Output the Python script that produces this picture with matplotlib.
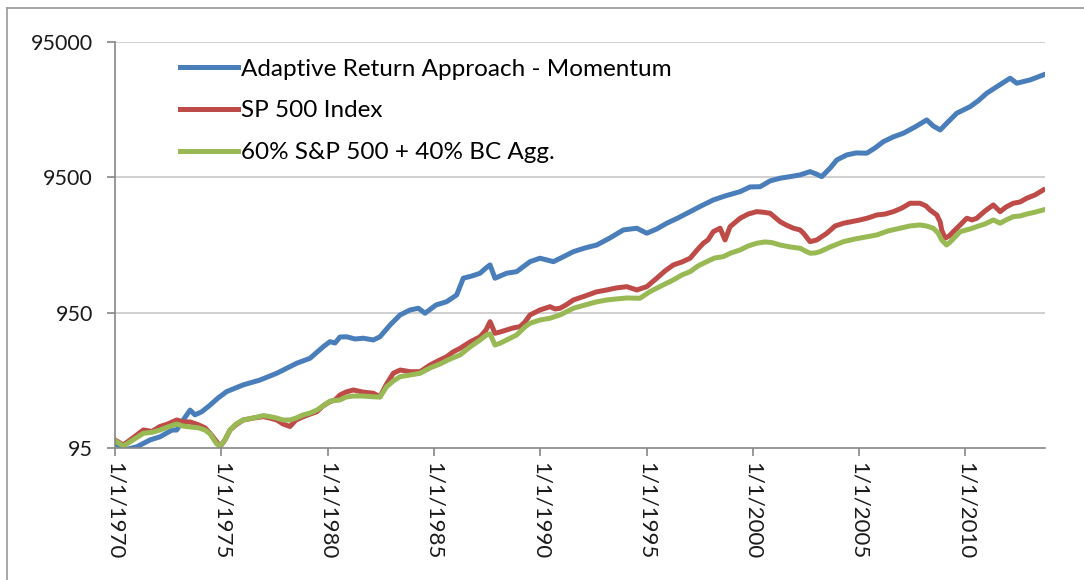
import matplotlib
matplotlib.use("Agg")
import matplotlib.pyplot as plt
from matplotlib.lines import Line2D

plt.rcParams['font.family'] = ['Lato', 'DejaVu Sans']

# ------------------------------
# data (decimal year, value)
# ------------------------------
ara_years = [1970.0, 1970.56, 1971.03, 1971.65, 1972.12, 1972.68, 1972.90, 1973.21, 1973.53, 1973.76,
             1974.08, 1974.47, 1974.84, 1975.25, 1976.03, 1976.82, 1977.61, 1978.55, 1979.17, 1979.80,
             1980.11, 1980.35, 1980.58, 1980.90, 1981.29, 1981.68, 1982.15, 1982.46, 1982.94, 1983.41,
             1983.88, 1984.27, 1984.58, 1985.10, 1985.60, 1986.07, 1986.38, 1986.79, 1987.17, 1987.45,
             1987.64, 1987.87, 1988.42, 1988.89, 1989.52, 1989.99, 1990.62, 1991.07, 1991.56, 1992.11,
             1992.66, 1993.28, 1993.91, 1994.54, 1995.01, 1995.48, 1995.95, 1996.48, 1997.05, 1997.56,
             1998.14, 1998.69, 1999.40, 1999.87, 2000.34, 2000.81, 2001.28, 2001.75, 2002.22, 2002.69,
             2002.97, 2003.24, 2003.64, 2003.95, 2004.42, 2004.86, 2005.36, 2005.75, 2006.14, 2006.60,
             2007.08, 2007.63, 2008.18, 2008.48, 2008.81, 2009.18, 2009.59, 2010.22, 2010.59, 2011.00,
             2011.53, 2012.10, 2012.41, 2013.04, 2013.66]
ara_vals = [102, 93, 97, 109, 115, 129, 129, 153, 181, 167,
            176, 197, 222, 248, 278, 302, 339, 402, 437, 533,
            580, 567, 628, 630, 607, 615, 597, 630, 771, 914,
            995, 1024, 941, 1083, 1145, 1284, 1707, 1774, 1858, 2033,
            2140, 1707, 1858, 1909, 2263, 2399, 2263, 2452, 2683, 2858,
            3006, 3387, 3882, 3996, 3670, 3948, 4350, 4760, 5298, 5832,
            6466, 6918, 7449, 8070, 8096, 8938, 9357, 9615, 9899, 10468,
            10070, 9615, 11148, 12775, 13912, 14389, 14330, 15667, 17441, 18895,
            20122, 22398, 25232, 22773, 21283, 24388, 28278, 31636, 34867, 39747,
            44983, 51305, 47121, 49840, 54276]

sp_years = [1970.0, 1970.39, 1970.85, 1971.33, 1971.74, 1972.12, 1972.49, 1972.90, 1973.20, 1973.53,
            1973.92, 1974.23, 1974.47, 1974.78, 1974.94, 1975.17, 1975.41, 1975.69, 1976.03, 1976.49,
            1976.98, 1977.29, 1977.61, 1977.90, 1978.23, 1978.51, 1978.86, 1979.17, 1979.49, 1979.78,
            1980.11, 1980.35, 1980.58, 1980.86, 1981.21, 1981.66, 1982.15, 1982.46, 1982.75, 1983.09,
            1983.41, 1983.88, 1984.35, 1984.82, 1985.19, 1985.60, 1985.90, 1986.23, 1986.70, 1987.17,
            1987.45, 1987.64, 1987.87, 1988.11, 1988.42, 1988.72, 1989.05, 1989.28, 1989.52, 1989.99,
            1990.46, 1990.70, 1990.93, 1991.21, 1991.56, 1992.11, 1992.63, 1993.13, 1993.57, 1994.07,
            1994.54, 1995.01, 1995.48, 1995.87, 1996.26, 1996.67, 1997.05, 1997.38, 1997.67, 1997.89,
            1998.14, 1998.46, 1998.69, 1998.93, 1999.40, 1999.78, 2000.18, 2000.48, 2000.81, 2001.28,
            2001.56, 2001.91, 2002.22, 2002.38, 2002.69, 2003.01, 2003.48, 2003.87, 2004.26, 2004.57,
            2005.04, 2005.42, 2005.83, 2006.22, 2006.61, 2007.02, 2007.39, 2007.86, 2008.15, 2008.33,
            2008.65, 2008.81, 2008.88, 2009.04, 2009.23, 2009.43, 2009.75, 2010.06, 2010.31, 2010.53,
            2010.92, 2011.31, 2011.63, 2011.91, 2012.25, 2012.57, 2012.88, 2013.27, 2013.66]
sp_vals = [109, 100, 113, 129, 126, 137, 143, 153, 148, 148,
           141, 134, 122, 106, 97, 109, 129, 141, 153, 158,
           162, 158, 153, 143, 137, 153, 162, 169, 176, 194,
           209, 215, 234, 246, 255, 246, 241, 227, 278, 339,
           358, 348, 348, 390, 418, 449, 487, 518, 577, 630,
           708, 815, 669, 684, 708, 732, 749, 811, 914, 995,
           1052, 1012, 1024, 1083, 1179, 1262, 1351, 1398, 1446, 1479,
           1398, 1479, 1707, 1932, 2140, 2252, 2399, 2762, 3095, 3274,
           3771, 3996, 3274, 4106, 4736, 5087, 5298, 5250, 5156, 4470,
           4225, 3996, 3882, 3670, 3180, 3274, 3670, 4154, 4350, 4447,
           4601, 4760, 5008, 5087, 5298, 5643, 6113, 6113, 5832, 5454,
           5008, 4447, 3882, 3370, 3503, 3771, 4225, 4736, 4601, 4736,
           5363, 5939, 5298, 5737, 6113, 6250, 6656, 7041, 7668]

mix_years = [1970.0, 1970.39, 1970.85, 1971.33, 1971.74, 1972.12, 1972.49, 1972.90, 1973.20, 1973.53,
             1973.92, 1974.23, 1974.47, 1974.78, 1974.94, 1975.17, 1975.41, 1975.69, 1976.03, 1976.49,
             1976.98, 1977.29, 1977.61, 1977.90, 1978.23, 1978.51, 1978.86, 1979.17, 1979.49, 1979.78,
             1980.11, 1980.58, 1980.86, 1981.21, 1981.66, 1982.15, 1982.46, 1982.78, 1983.09, 1983.41,
             1983.88, 1984.35, 1984.82, 1985.29, 1985.76, 1986.23, 1986.70, 1987.17, 1987.48, 1987.64,
             1987.87, 1988.11, 1988.42, 1988.89, 1989.28, 1989.52, 1989.99, 1990.46, 1990.93, 1991.56,
             1992.11, 1992.63, 1993.13, 1993.57, 1994.07, 1994.69, 1995.16, 1995.68, 1996.26, 1996.67,
             1997.05, 1997.42, 1997.83, 1998.21, 1998.61, 1998.97, 1999.40, 1999.78, 2000.18, 2000.57,
             2000.90, 2001.28, 2001.75, 2002.22, 2002.46, 2002.69, 2002.93, 2003.16, 2003.64, 2004.26,
             2004.81, 2005.32, 2005.83, 2006.36, 2006.92, 2007.39, 2007.86, 2008.15, 2008.49, 2008.71,
             2008.88, 2009.11, 2009.28, 2009.51, 2009.75, 2010.22, 2010.53, 2010.92, 2011.31, 2011.63,
             2011.91, 2012.25, 2012.57, 2012.88, 2013.27, 2013.66]
mix_vals = [108, 98, 109, 122, 124, 129, 136, 143, 138, 136,
            134, 129, 121, 102, 98, 109, 129, 143, 153, 158,
            165, 162, 158, 153, 153, 158, 167, 172, 181, 194,
            211, 215, 226, 230, 230, 227, 226, 270, 297, 320,
            329, 339, 371, 397, 432, 463, 530, 597, 650, 662,
            548, 565, 597, 650, 745, 793, 839, 864, 914, 1024,
            1083, 1140, 1179, 1199, 1220, 1214, 1358, 1496, 1658, 1806,
            1909, 2103, 2263, 2410, 2464, 2624, 2762, 2955, 3095, 3164,
            3130, 3006, 2907, 2843, 2716, 2611, 2624, 2683, 2907, 3180,
            3330, 3445, 3565, 3817, 3996, 4154, 4225, 4154, 3996, 3689,
            3274, 3006, 3164, 3445, 3771, 3948, 4106, 4300, 4601, 4350,
            4601, 4866, 4923, 5087, 5250, 5454]

labels = ['Adaptive Return Approach - Momentum', 'SP 500 Index', '60% S&P 500 + 40% BC Agg.']
tick_years = [1970, 1975, 1980, 1985, 1990, 1995, 2000, 2005, 2010]
y_ticks = [95, 950, 9500, 95000]

# Excel 2007 style colours
COLOR_BLUE = '#4A7EBB'
COLOR_RED = '#BE4B48'
COLOR_GREEN = '#98B954'
AXIS_GRAY = '#868686'
GRID_GRAY = '#C8C8C8'

fig = plt.figure(figsize=(10.84, 5.8), dpi=100)
ax = fig.add_axes([115 / 1084, 1 - 448 / 580, 930 / 1084, 406 / 580])

ax.plot(ara_years, ara_vals, color=COLOR_BLUE, lw=3.6, label=labels[0], solid_joinstyle='round')
ax.plot(sp_years, sp_vals, color=COLOR_RED, lw=3.6, label=labels[1], solid_joinstyle='round')
ax.plot(mix_years, mix_vals, color=COLOR_GREEN, lw=3.6, label=labels[2], solid_joinstyle='round')

ax.set_yscale('log')
ax.set_ylim(95, 95000)
ax.set_xlim(1970, 2013.74)
ax.set_yticks(y_ticks)
ax.set_yticklabels([str(v) for v in y_ticks])
ax.minorticks_off()
ax.set_xticks(tick_years)
ax.set_xticklabels([f'1/1/{y}' for y in tick_years], rotation=270)

for v in y_ticks[1:]:
    ax.axhline(v, color=GRID_GRAY, lw=1.2, zorder=0)

ax.spines['top'].set_visible(False)
ax.spines['right'].set_visible(False)
ax.spines['left'].set_color(AXIS_GRAY)
ax.spines['bottom'].set_color(AXIS_GRAY)
ax.spines['left'].set_linewidth(1.2)
ax.spines['bottom'].set_linewidth(1.2)
ax.tick_params(axis='y', length=6, width=1.2, color=AXIS_GRAY, pad=10, labelsize=15.5, labelcolor='#1a1a1a')
ax.tick_params(axis='x', length=6, width=1.2, color=AXIS_GRAY, pad=4, labelsize=16, labelcolor='#1a1a1a')

ax.legend(loc='upper left', bbox_to_anchor=(0.07, 0.959), frameon=False, fontsize=17.5,
          handlelength=2.4, handletextpad=0.1, labelspacing=0.85, borderpad=0, borderaxespad=0)

# outer chart border (top and left visible in the crop)
fig.add_artist(Line2D([7 / 1084, 1], [1 - 8 / 580, 1 - 8 / 580], transform=fig.transFigure, color='#9a9a9a', lw=1.2))
fig.add_artist(Line2D([7 / 1084, 7 / 1084], [0, 1 - 8 / 580], transform=fig.transFigure, color='#9a9a9a', lw=1.2))

fig.savefig('out.png', dpi=100, facecolor='white')
